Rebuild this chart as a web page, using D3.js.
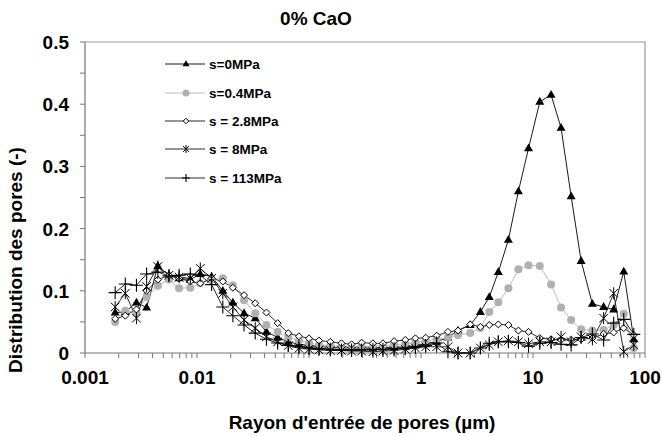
<!DOCTYPE html>
<html><head><meta charset="utf-8">
<script src="https://cdn.jsdelivr.net/npm/d3@7/dist/d3.min.js"></script>
<style>body{margin:0;background:#fff}svg{display:block}</style>
</head><body><svg id="c" width="662" height="436"></svg>
<script>
// Pore entry radius (µm), common grid
const radius = [0.00186,0.00229,0.00288,0.00355,0.00447,0.00562,0.00692,0.00871,0.0107,0.0135,
0.0170,0.0209,0.0263,0.0331,0.0417,0.0525,0.0653,0.0813,0.100,0.123,
0.155,0.195,0.240,0.295,0.372,0.457,0.575,0.724,0.891,1.10,
1.38,1.74,2.14,2.75,3.39,4.07,4.90,6.03,7.41,9.12,
11.5,14.5,17.8,21.9,26.9,33.9,42.7,52.5,64.6,79.4];
const s0 = [0.065,0.066,0.081,0.073,0.14,0.125,0.12,0.118,0.127,0.123,
0.10,0.081,0.064,0.056,0.034,0.025,0.018,0.014,0.012,0.01,
0.009,0.008,0.008,0.008,0.008,0.009,0.009,0.01,0.012,0.015,
0.018,0.025,0.036,0.045,0.066,0.09,0.13,0.182,0.26,0.329,
0.404,0.415,0.362,0.252,0.148,0.079,0.074,0.070,0.131,0.022];
const s04 = [0.05,0.068,0.065,0.09,0.108,0.118,0.104,0.105,0.112,0.118,
0.12,0.109,0.085,0.064,0.045,0.034,0.025,0.02,0.016,0.013,
0.012,0.011,0.01,0.01,0.011,0.012,0.013,0.015,0.017,0.02,
0.022,0.025,0.029,0.032,0.04,0.066,0.0815,0.104,0.1345,0.141,
0.140,0.110,0.073,0.053,0.038,0.036,0.037,0.045,0.063,0.008];
const s28 = [0.055,0.06,0.07,0.10,0.118,0.125,0.12,0.115,0.112,0.12,
0.115,0.105,0.093,0.08,0.065,0.048,0.032,0.027,0.0236,0.020,
0.018,0.0156,0.014,0.0166,0.0156,0.0156,0.019,0.021,0.0236,0.0246,
0.028,0.034,0.036,0.046,0.042,0.045,0.046,0.045,0.036,0.034,
0.024,0.022,0.021,0.021,0.022,0.024,0.0305,0.033,0.040,0.029];
const s8 = [0.074,0.096,0.056,0.107,0.139,0.125,0.122,0.12,0.136,0.12,
0.096,0.074,0.053,0.04,0.026,0.018,0.012,0.0075,0.006,0.005,
0.004,0.004,0.003,0.003,0.002,0.003,0.004,0.006,0.008,0.01,
0.01,0.01,0.0,0.0,0.008,0.013,0.018,0.02,0.018,0.015,
0.018,0.018,0.026,0.018,0.026,0.022,0.056,0.096,0.002,0.013];
const s113 = [0.097,0.111,0.109,0.127,0.13,0.124,0.125,0.127,0.125,0.11,
0.074,0.06,0.045,0.032,0.022,0.016,0.012,0.01,0.008,0.007,
0.006,0.005,0.005,0.005,0.006,0.006,0.007,0.008,0.01,0.012,
0.016,0.002,0.0,0.0,0.008,0.0156,0.018,0.018,0.017,0.011,
0.0156,0.017,0.014,0.013,0.025,0.0305,0.021,0.048,0.054,0.03];
const seriesNames = ["s=0MPa","s=0.4MPa","s = 2.8MPa","s = 8MPa","s = 113MPa"];
const xTicks = [0.001,0.01,0.1,1,10,100];
const xTickLabels = ["0.001","0.01","0.1","1","10","100"];
const yTicks = [0,0.1,0.2,0.3,0.4,0.5];
const yTickLabels = ["0","0.1","0.2","0.3","0.4","0.5"];
const title = "0% CaO";
const xTitle = "Rayon d'entrée de pores (µm)";
const yTitle = "Distribution des pores (-)";

const FONT = "'Liberation Sans', Arial, sans-serif";
const svg = d3.select("#c");
const L = 85, R = 645, T = 42, B = 353;
const x = d3.scaleLog().domain([0.001,100]).range([L,R]);
const y = d3.scaleLinear().domain([0,0.5]).range([B,T]);

// markers
function tri(s){const h=s*0.87;return `M0,${-h*0.62}L${s/2},${h*0.38}L${-s/2},${h*0.38}Z`;}
function diam(s){const a=s/2;return `M0,${-a}L${a},0L0,${a}L${-a},0Z`;}
function star(s){const a=s/2,b=a*0.72;return `M${-b},${-b}L${b},${b}M${-b},${b}L${b},${-b}M0,${-a}L0,${a}`;}
function plus(s){const a=s/2;return `M${-a},0L${a},0M0,${-a}L0,${a}`;}
const styles = [
  {data:s0, line:"#1a1a1a", path:tri, size:9, lsize:7, fill:"#000", stroke:"none", sw:0},
  {data:s04, line:"#bdbdbd", path:null, size:8, lsize:7, fill:"#b0b0b0", stroke:"none", sw:0},
  {data:s28, line:"#2a2a2a", path:diam, size:7, lsize:5.5, fill:"#fff", stroke:"#000", sw:1},
  {data:s8, line:"#2a2a2a", path:star, size:12, lsize:8, fill:"none", stroke:"#000", sw:1},
  {data:s113, line:"#2a2a2a", path:plus, size:13, lsize:8, fill:"none", stroke:"#000", sw:1.1}
];

// frame
svg.append("path").attr("d",`M${L},${T}H${R}V${B}`).attr("fill","none").attr("stroke","#999").attr("stroke-width",1.2);
svg.append("line").attr("x1",L).attr("x2",L).attr("y1",T).attr("y2",B).attr("stroke","#777").attr("stroke-width",1.2);
svg.append("line").attr("x1",L).attr("x2",R).attr("y1",B).attr("y2",B).attr("stroke","#777").attr("stroke-width",1.2);

// y ticks (every 0.05)
const yt = d3.range(0,0.5001,0.05);
svg.selectAll(".yt").data(yt).enter().append("line")
  .attr("x1",L-5).attr("x2",L).attr("y1",d=>y(d)).attr("y2",d=>y(d)).attr("stroke","#777");
svg.selectAll(".yl").data(yTicks).enter().append("text")
  .attr("x",69).attr("y",d=>y(d)+7).attr("text-anchor","end")
  .attr("font-family",FONT).attr("font-weight","bold").attr("font-size",19).text((d,i)=>yTickLabels[i]);

// x ticks (log)
const xt = [];
for (let e=-3;e<2;e++) for (let m=1;m<10;m++) xt.push(m*Math.pow(10,e));
xt.push(100);
svg.selectAll(".xt").data(xt).enter().append("line")
  .attr("x1",d=>x(d)).attr("x2",d=>x(d)).attr("y1",B).attr("y2",B+5).attr("stroke","#777");
svg.selectAll(".xl").data(xTicks).enter().append("text")
  .attr("x",d=>x(d)).attr("y",384).attr("text-anchor","middle")
  .attr("font-family",FONT).attr("font-weight","bold").attr("font-size",19).text((d,i)=>xTickLabels[i]);

// series
styles.forEach(st=>{
  const pts = radius.map((r,i)=>[r,st.data[i]]);
  svg.append("path").datum(pts).attr("fill","none").attr("stroke",st.line).attr("stroke-width",1)
    .attr("d",d3.line().x(d=>x(d[0])).y(d=>y(d[1])));
});
styles.forEach(st=>{
  const g = svg.append("g");
  radius.forEach((r,i)=>{
    const cx = x(r), cy = y(st.data[i]);
    if (st.path) g.append("path").attr("d",st.path(st.size)).attr("transform",`translate(${cx},${cy})`)
      .attr("fill",st.fill).attr("stroke",st.stroke).attr("stroke-width",st.sw);
    else g.append("circle").attr("cx",cx).attr("cy",cy).attr("r",st.size/2).attr("fill",st.fill);
  });
});

// legend
const lg = svg.append("g");
const rows = [64,93,121,149,178];
seriesNames.forEach((nm,i)=>{
  const st = styles[i], yy = rows[i];
  lg.append("line").attr("x1",165).attr("x2",205).attr("y1",yy).attr("y2",yy).attr("stroke",st.line).attr("stroke-width",1);
  if (st.path) lg.append("path").attr("d",st.path(st.lsize)).attr("transform",`translate(186,${yy})`)
      .attr("fill",st.fill).attr("stroke",st.stroke).attr("stroke-width",st.sw);
  else lg.append("circle").attr("cx",186).attr("cy",yy).attr("r",st.lsize/2).attr("fill",st.fill);
  lg.append("text").attr("x",209).attr("y",yy+5).attr("font-family",FONT).attr("font-weight","bold")
    .attr("font-size",13.5).text(nm);
});

// titles
svg.append("text").attr("x",316).attr("y",25).attr("text-anchor","middle").attr("font-family",FONT)
  .attr("font-weight","bold").attr("font-size",19).text(title);
svg.append("text").attr("x",362).attr("y",429).attr("text-anchor","middle").attr("font-family",FONT)
  .attr("font-weight","bold").attr("font-size",19).text(xTitle);
svg.append("text").attr("transform","translate(22,260) rotate(-90)").attr("text-anchor","middle").attr("font-family",FONT)
  .attr("font-weight","bold").attr("font-size",19).text(yTitle);
</script></body></html>
